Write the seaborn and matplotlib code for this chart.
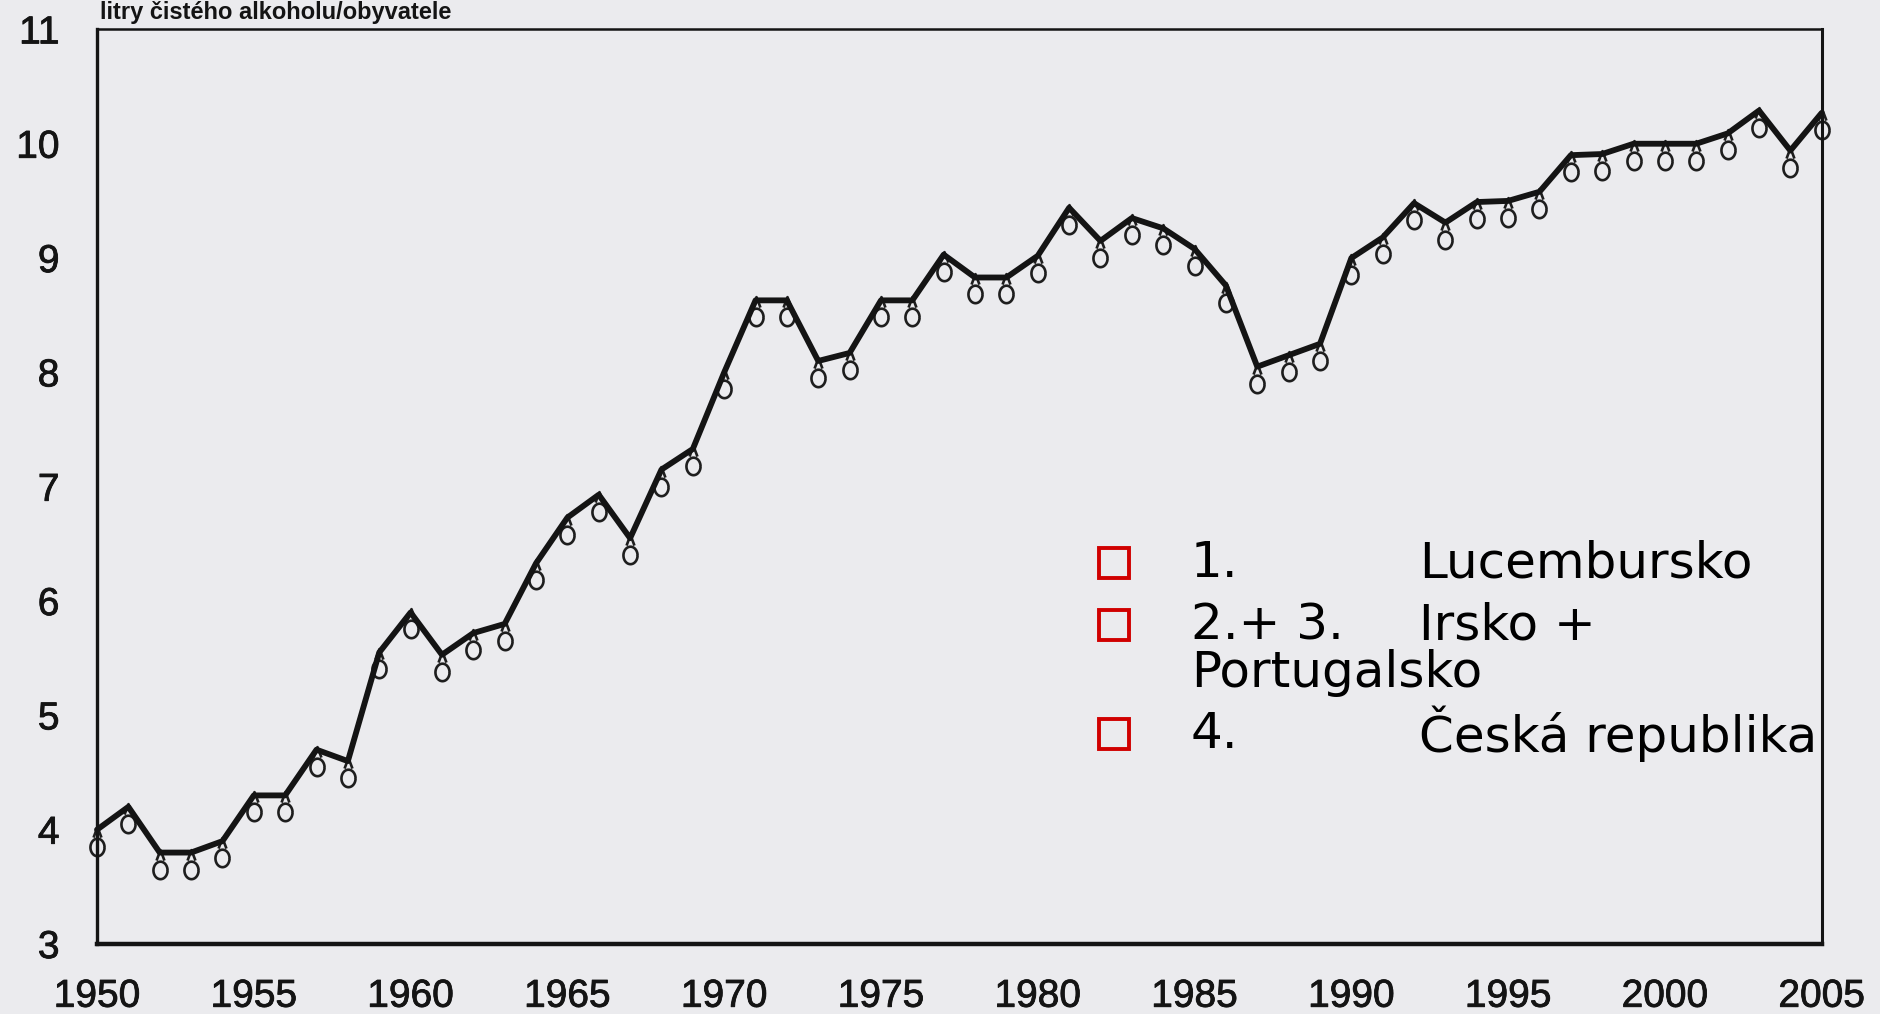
# spotreba alkoholu - prepis grafu
import numpy as np
import pandas as pd
import matplotlib
matplotlib.use("Agg")
import matplotlib.pyplot as plt
import matplotlib.patheffects as pe
from matplotlib.path import Path
import seaborn as sns

# ---------------- data ----------------
years = list(range(1950, 2006))
litres = [4.0, 4.2, 3.8, 3.8, 3.9, 4.3, 4.3, 4.7, 4.6, 5.55,
          5.9, 5.53, 5.72, 5.8, 6.33, 6.73, 6.93, 6.55, 7.15, 7.33,
          8.0, 8.63, 8.63, 8.1, 8.17, 8.63, 8.63, 9.03, 8.83, 8.83,
          9.02, 9.44, 9.15, 9.35, 9.26, 9.08, 8.76, 8.05, 8.15, 8.25,
          9.0, 9.18, 9.48, 9.31, 9.49, 9.5, 9.58, 9.9, 9.91, 10.0,
          10.0, 10.0, 10.09, 10.29, 9.94, 10.27]
x_labels = [str(y) if y % 5 == 0 else "" for y in years]
y_ticks = [3, 4, 5, 6, 7, 8, 9, 10, 11]

title = "litry čistého alkoholu/obyvatele"
rank_nums = ["1.", "2.+ 3.", "4."]
rank_names = ["Lucembursko", "Irsko +", "Česká republika"]
rank_extra = "Portugalsko"

df = pd.DataFrame({"rok": years, "litry": litres})

# ---------------- style ----------------
paper = "#ebebee"
ink = "#141414"
sns.set_style("white", {"axes.facecolor": paper, "figure.facecolor": paper})
plt.rcParams["font.family"] = ["Liberation Sans", "DejaVu Sans"]

fig = plt.figure(figsize=(18.8, 10.14), dpi=100)
ax = fig.add_axes([0.0516, 0.069, 0.9174, 0.902])

# marker: small peak at the point with an oval hanging below
t = np.linspace(0, 2 * np.pi, 41)
oval = np.column_stack([0.5 * np.cos(t), -1.2 + 0.62 * np.sin(t)])
peak = np.array([[-0.28, -0.5], [0.0, 0.24], [0.28, -0.5]])
verts = np.vstack([oval, peak])
codes = ([Path.MOVETO] + [Path.LINETO] * (len(oval) - 1)
         + [Path.MOVETO, Path.LINETO, Path.LINETO])
hang_marker = Path(verts, codes)

sns.lineplot(data=df, x="rok", y="litry", ax=ax, marker=hang_marker,
             linestyle="", markersize=37, markerfacecolor="none",
             markeredgecolor="#1e1e1e", markeredgewidth=1.9,
             clip_on=False, zorder=2)
sns.lineplot(data=df, x="rok", y="litry", ax=ax, color=ink,
             linewidth=4.2, clip_on=False, zorder=3)

ax.set_xlim(1950, 2005)
ax.set_ylim(3, 11)
ax.set_xticks(years)
ax.set_xticklabels(x_labels)
ax.set_yticks(y_ticks)
ax.set_xlabel("")
ax.set_ylabel("")

ax.tick_params(axis="x", direction="in", length=18, width=1.3,
               color="#7a7a7a", pad=25, labelsize=28, labelcolor=ink)
ax.tick_params(axis="y", direction="in", length=16, width=1.0,
               color="#8a8a8a", pad=27, labelsize=28, labelcolor=ink)

# scanned print: slightly heavier digits
for lab in ax.get_xticklabels() + ax.get_yticklabels():
    lab.set_path_effects([pe.withStroke(linewidth=0.6, foreground=ink)])

for side, lw in [("left", 2.4), ("bottom", 3.2), ("top", 1.8), ("right", 2.2)]:
    ax.spines[side].set_visible(True)
    ax.spines[side].set_color(ink)
    ax.spines[side].set_linewidth(lw)

# title above the frame
fig.text(0.053, 1 - 19 / 1014, title, fontsize=17, fontweight="bold",
         color=ink, va="baseline", ha="left")

# ranking box
row_y = [563, 625, 734]
for num, name, yy in zip(rank_nums, rank_names, row_y):
    fy = 1 - yy / 1014
    ax.plot([1114 / 1880], [fy], marker="s", markersize=22,
            markerfacecolor="none", markeredgecolor="#d00000",
            markeredgewidth=2.8, transform=fig.transFigure, clip_on=False)
    fig.text(1191 / 1880, fy, num, fontsize=36, family="DejaVu Sans",
             va="center", ha="left", color="black")
    fig.text(1419 / 1880, fy, name, fontsize=36, family="DejaVu Sans",
             va="center", ha="left", color="black")
fig.text(1191 / 1880, 1 - 673 / 1014, rank_extra, fontsize=36,
         family="DejaVu Sans", va="center", ha="left", color="black")

fig.savefig("out.png", dpi=100, facecolor=paper)
